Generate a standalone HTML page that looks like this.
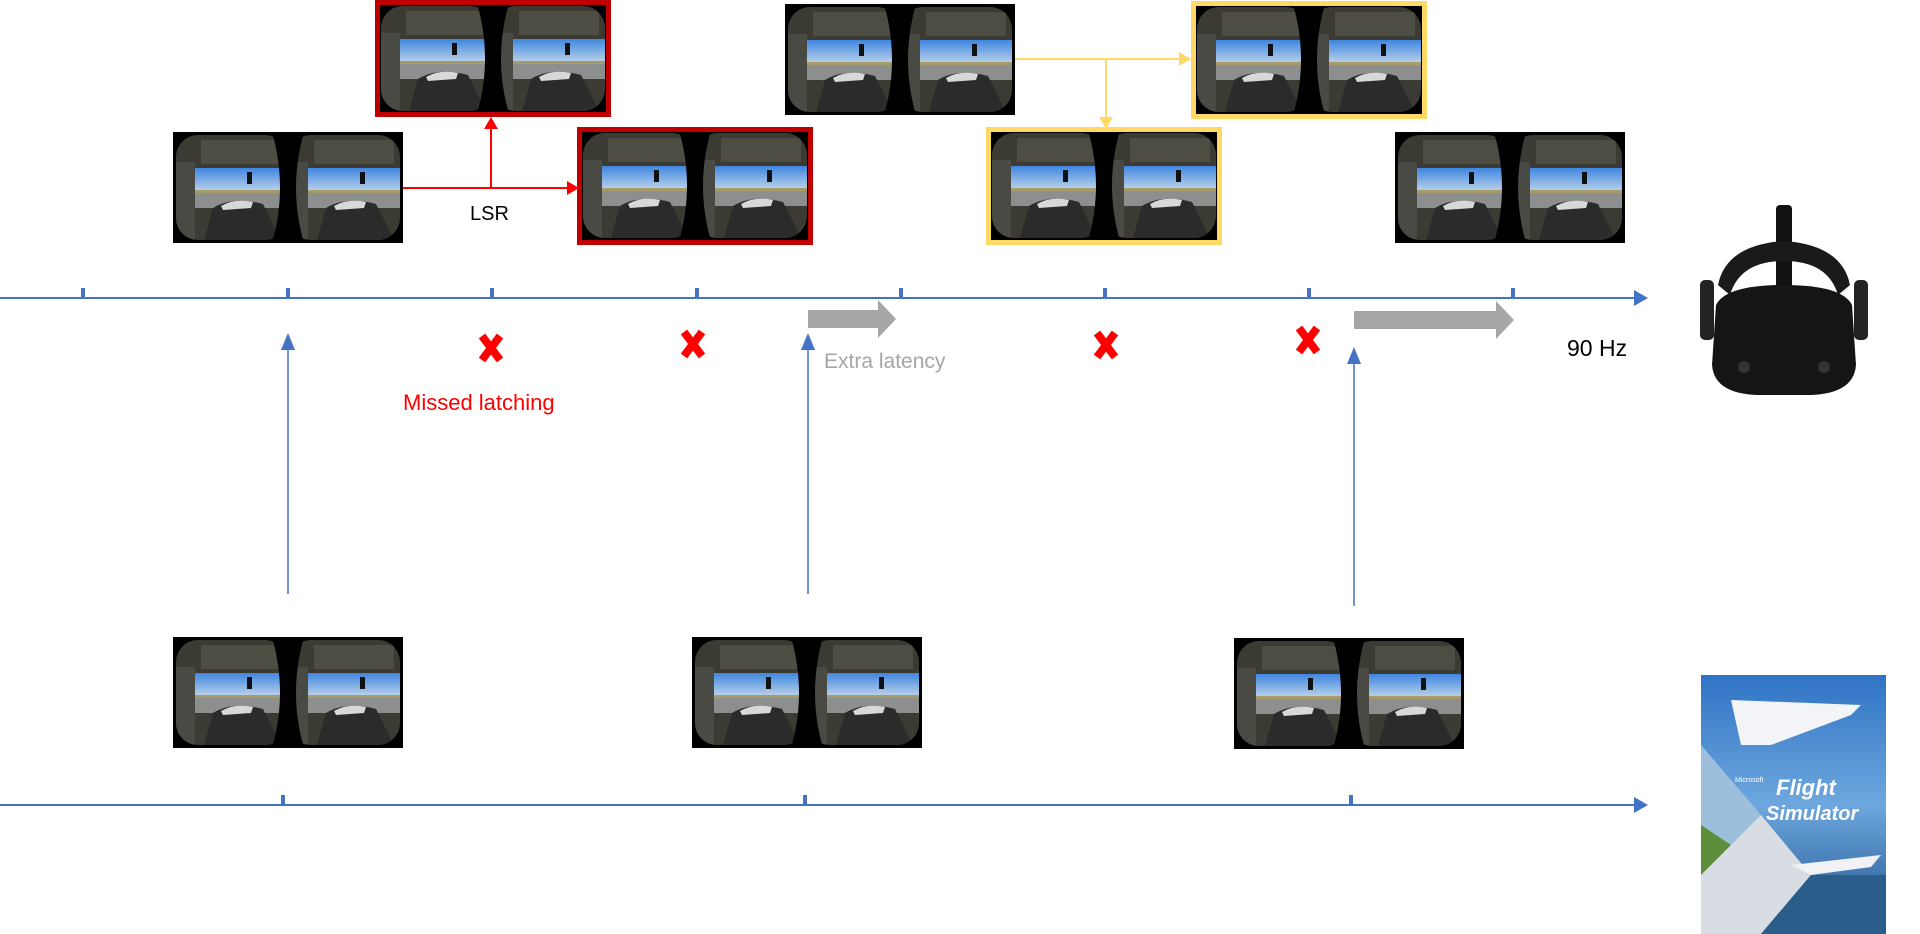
<!DOCTYPE html>
<html><head><meta charset="utf-8"><style>
html,body{margin:0;padding:0;background:#fff;}
body{width:1920px;height:934px;position:relative;overflow:hidden;font-family:"Liberation Sans",sans-serif;}
.t{position:absolute;white-space:nowrap;}
</style></head><body>
<svg width="1920" height="934" style="position:absolute;left:0;top:0">
<defs>
<linearGradient id="sky" x1="0" y1="0" x2="0" y2="1"><stop offset="0" stop-color="#3f86e0"/><stop offset="1" stop-color="#c9dcea"/></linearGradient>
<clipPath id="lensL"><rect x="3" y="3" width="111" height="105" rx="22"/></clipPath>
<clipPath id="lensR"><rect x="116" y="3" width="111" height="105" rx="22"/></clipPath>
<g id="lens">
<rect x="0" y="0" width="120" height="112" fill="#3b3a33"/>
<rect x="0" y="36" width="120" height="26" fill="url(#sky)"/>
<rect x="0" y="60" width="120" height="16" fill="#8d8e8e"/>
<rect x="0" y="58" width="120" height="3" fill="#a89b6a"/>
<path d="M40 76 Q60 64 90 72 L110 112 L30 112 Z" fill="#2b2b2b"/>
<path d="M48 74 Q62 66 80 70 L78 76 L50 78 Z" fill="#d8d8d8"/>
<rect x="0" y="30" width="22" height="82" fill="#4a4a45"/>
<rect x="28" y="8" width="80" height="24" fill="#4e4d44"/>
<rect x="74" y="40" width="5" height="12" fill="#111"/>
</g>
<g id="frame">
<rect x="0" y="0" width="230" height="111" fill="#000"/>
<g clip-path="url(#lensL)"><use href="#lens"/></g>
<g clip-path="url(#lensR)"><use href="#lens" x="113"/></g>
<path d="M99 0 Q115 56 99 111 L131 111 Q115 56 131 0 Z" fill="#000"/>
</g>
</defs>

<!-- top frames -->
<use href="#frame" x="173" y="132"/>
<use href="#frame" x="378" y="3"/>
<rect x="377.5" y="2.5" width="231" height="112" fill="none" stroke="#c00000" stroke-width="5"/>
<use href="#frame" x="580" y="130"/>
<rect x="579.5" y="129.5" width="231" height="113" fill="none" stroke="#c00000" stroke-width="5"/>
<use href="#frame" x="785" y="4"/>
<use href="#frame" x="1194" y="4"/>
<rect x="1193.5" y="3.5" width="231" height="113" fill="none" stroke="#ffd966" stroke-width="5"/>
<use href="#frame" x="989" y="130"/>
<rect x="988.5" y="129.5" width="231" height="113" fill="none" stroke="#ffd966" stroke-width="5"/>
<use href="#frame" x="1395" y="132"/>

<!-- bottom frames -->
<use href="#frame" x="173" y="637"/>
<use href="#frame" x="692" y="637"/>
<use href="#frame" x="1234" y="638"/>

<!-- red LSR connectors -->
<g stroke="#ff0000" stroke-width="2" fill="none">
<line x1="403" y1="188" x2="567" y2="188"/>
<line x1="491" y1="188" x2="491" y2="128"/>
</g>
<polygon points="567,181 579,188 567,195" fill="#ff0000"/>
<polygon points="484,129 491,117 498,129" fill="#ff0000"/>

<!-- yellow connectors -->
<g stroke="#ffd966" stroke-width="2" fill="none">
<line x1="1015" y1="59" x2="1180" y2="59"/>
<line x1="1106" y1="59" x2="1106" y2="118"/>
</g>
<polygon points="1179,52 1191,59 1179,66" fill="#ffd966"/>
<polygon points="1099,117 1106,129 1113,117" fill="#ffd966"/>

<!-- top axis -->
<line x1="0" y1="298" x2="1637" y2="298" stroke="#4472c4" stroke-width="2"/>
<polygon points="1634,290 1648,298 1634,306" fill="#4472c4"/>
<g stroke="#4472c4" stroke-width="4">
<line x1="83" y1="288" x2="83" y2="298"/><line x1="288" y1="288" x2="288" y2="298"/>
<line x1="492" y1="288" x2="492" y2="298"/><line x1="697" y1="288" x2="697" y2="298"/>
<line x1="901" y1="288" x2="901" y2="298"/><line x1="1105" y1="288" x2="1105" y2="298"/>
<line x1="1309" y1="288" x2="1309" y2="298"/><line x1="1513" y1="288" x2="1513" y2="298"/>
</g>

<!-- bottom axis -->
<line x1="0" y1="805" x2="1637" y2="805" stroke="#4472c4" stroke-width="2"/>
<polygon points="1634,797 1648,805 1634,813" fill="#4472c4"/>
<g stroke="#4472c4" stroke-width="4">
<line x1="283" y1="795" x2="283" y2="805"/><line x1="805" y1="795" x2="805" y2="805"/><line x1="1351" y1="795" x2="1351" y2="805"/>
</g>

<!-- up arrows -->
<g stroke="#4472c4" stroke-width="1.5">
<line x1="288" y1="346" x2="288" y2="594"/>
<line x1="808" y1="346" x2="808" y2="594"/>
<line x1="1354" y1="360" x2="1354" y2="606"/>
</g>
<polygon points="281,350 288,333 295,350" fill="#4472c4"/>
<polygon points="801,350 808,333 815,350" fill="#4472c4"/>
<polygon points="1347,364 1354,347 1361,364" fill="#4472c4"/>

<!-- gray arrows -->
<polygon points="808,310 878,310 878,300 896,319 878,338 878,328 808,328" fill="#a6a6a6"/>
<polygon points="1354,311 1496,311 1496,301 1514,320 1496,339 1496,329 1354,329" fill="#a6a6a6"/>

<!-- red X -->
<g stroke="#ff0000" stroke-width="8" stroke-linecap="butt">
<g transform="translate(491,348)"><line x1="-9" y1="-12" x2="9" y2="12"/><line x1="9" y1="-12" x2="-9" y2="12"/></g>
<g transform="translate(693,344)"><line x1="-9" y1="-12" x2="9" y2="12"/><line x1="9" y1="-12" x2="-9" y2="12"/></g>
<g transform="translate(1106,345)"><line x1="-9" y1="-12" x2="9" y2="12"/><line x1="9" y1="-12" x2="-9" y2="12"/></g>
<g transform="translate(1308,340)"><line x1="-9" y1="-12" x2="9" y2="12"/><line x1="9" y1="-12" x2="-9" y2="12"/></g>
</g>

<!-- headset -->
<g transform="translate(1696,205)">
<rect x="80" y="0" width="16" height="110" rx="4" fill="#111"/>
<path d="M22 80 Q30 40 88 36 Q146 40 154 80 L142 90 Q132 56 88 56 Q44 56 34 90 Z" fill="#1a1a1a"/>
<rect x="4" y="75" width="14" height="60" rx="5" fill="#222"/>
<rect x="158" y="75" width="14" height="60" rx="5" fill="#222"/>
<path d="M20 100 Q30 80 88 80 Q146 80 156 100 L160 160 Q158 188 116 190 L60 190 Q18 188 16 160 Z" fill="#151515"/>
<circle cx="48" cy="162" r="6" fill="#333"/><circle cx="128" cy="162" r="6" fill="#333"/>
</g>

<!-- flight sim cover -->
<g transform="translate(1701,675)">
<defs><linearGradient id="fs" x1="0" y1="0" x2="0" y2="1"><stop offset="0" stop-color="#2f73c4"/><stop offset="0.5" stop-color="#6da7de"/><stop offset="1" stop-color="#1e4f8a"/></linearGradient></defs>
<rect x="0" y="0" width="185" height="259" fill="url(#fs)"/>
<polygon points="0,70 60,140 0,200" fill="#9cc0dc"/>
<polygon points="0,150 30,170 0,200" fill="#5d8f3a"/>
<polygon points="0,200 60,140 110,200 60,259 0,259" fill="#d7dde3"/>
<polygon points="60,259 110,200 185,200 185,259" fill="#2a5d8a"/>
<path d="M30 25 L160 30 L150 40 L70 70 L40 70 Z" fill="#f2f4f8"/>
<path d="M90 190 L180 180 L170 192 L110 200 Z" fill="#f0f2f6"/>
<text x="75" y="120" font-family="Liberation Sans,sans-serif" font-style="italic" font-weight="bold" font-size="22" fill="#fff">Flight</text>
<text x="65" y="145" font-family="Liberation Sans,sans-serif" font-style="italic" font-weight="bold" font-size="20" fill="#fff">Simulator</text>
<text x="34" y="107" font-family="Liberation Sans,sans-serif" font-size="7" fill="#fff">Microsoft</text>
</g>
</svg>

<div class="t" style="left:470px;top:203px;font-size:20px;color:#000">LSR</div>
<div class="t" style="left:403px;top:390px;font-size:22px;color:#ff0000">Missed latching</div>
<div class="t" style="left:824px;top:350px;font-size:21px;color:#a6a6a6">Extra latency</div>
<div class="t" style="left:1567px;top:335px;font-size:23px;color:#000">90 Hz</div>
</body></html>
